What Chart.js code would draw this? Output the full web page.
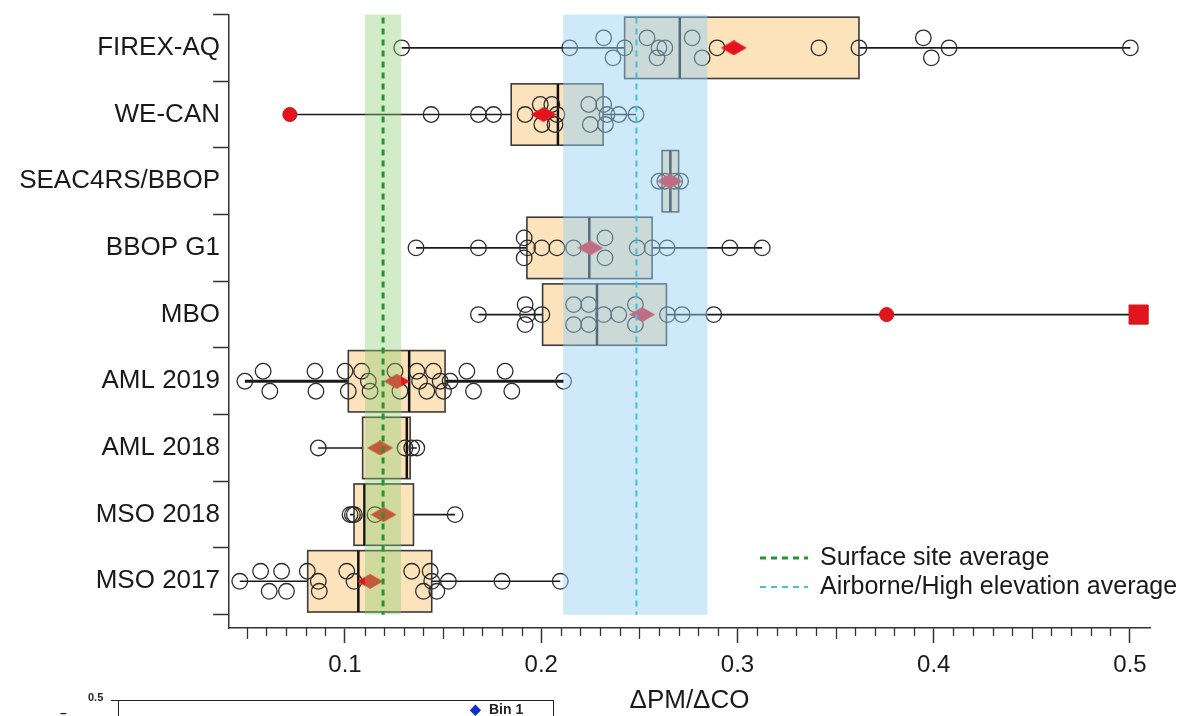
<!DOCTYPE html>
<html lang="en">
<head>
<meta charset="UTF-8">
<title>ΔPM/ΔCO by campaign</title>
<script src="https://cdn.jsdelivr.net/npm/chart.js"></script>
<style>
  body { margin: 0; background: #fff; font-family: "Liberation Sans", Arial, sans-serif; }
  .wrap { position: relative; width: 1202px; height: 716px; overflow: hidden; }
  /* bit of the next figure that is cut off at the bottom */
  .inset { position: absolute; left: 118px; top: 700px; width: 434px; height: 40px; border: 1.5px solid #222; border-bottom: none; }
  .inset-tick { position: absolute; left: 111px; top: 700px; width: 7px; border-top: 1.5px solid #222; }
  .inset-lbl { position: absolute; left: 88px; top: 691px; font-size: 11px; font-weight: bold; color: #222; }
  .inset-dash { position: absolute; left: 60px; top: 706px; font-size: 12px; font-weight: bold; color: #222; }
  .inset-key { position: absolute; left: 470px; top: 701px; font-size: 14px; font-weight: bold; color: #222; }
  .inset-key span { color: #1030d0; margin-right: 8px; }
</style>
</head>
<body>
<div class="wrap">
  <canvas id="ratioChart" width="1202" height="716"></canvas>
  <div class="inset"></div>
  <div class="inset-tick"></div>
  <div class="inset-lbl">0.5</div>
  <div class="inset-dash">–</div>
  <div class="inset-key"><span>◆</span>Bin 1</div>
</div>

<script>
// campaigns, top to bottom
const categories = ['FIREX-AQ', 'WE-CAN', 'SEAC4RS/BBOP', 'BBOP G1', 'MBO', 'AML 2019', 'AML 2018', 'MSO 2018', 'MSO 2017'];

// box statistics
const whiskerLow  = [0.1289, 0.0719, 0.2616, 0.1362, 0.1680, 0.0490, 0.0864, 0.1026, 0.0464];
const quartile1   = [0.2425, 0.1847, 0.2616, 0.1927, 0.2007, 0.1017, 0.1090, 0.1046, 0.0810];
const medians     = [0.2706, 0.2085, 0.2658, 0.2245, 0.2284, 0.1327, 0.1315, 0.1099, 0.1068];
const quartile3   = [0.3619, 0.2315, 0.2700, 0.2565, 0.2638, 0.1510, 0.1332, 0.1349, 0.1442];
const whiskerHigh = [0.5002, 0.2483, 0.2700, 0.3126, 0.5044, 0.2114, 0.1366, 0.1561, 0.2097];
const means       = [0.2981, 0.2012, 0.2655, 0.2250, 0.2514, 0.1264, 0.1179, 0.1196, 0.1128];

// individual fires (value) and which lane they sit in (-1 above, 0 centre, 1 below)
const pointValues = [
  [0.1289, 0.2145, 0.2318, 0.2366, 0.2425, 0.2539, 0.2600, 0.2630, 0.2590, 0.2769, 0.2820, 0.2896, 0.3415, 0.3619, 0.3947, 0.3988, 0.4078, 0.5002],
  [0.1439, 0.1680, 0.1757, 0.1918, 0.1995, 0.2003, 0.2054, 0.2080, 0.2070, 0.2242, 0.2250, 0.2318, 0.2327, 0.2335, 0.2395, 0.2483],
  [0.2600, 0.2630, 0.2680, 0.2710],
  [0.1362, 0.1680, 0.1913, 0.1913, 0.1930, 0.2003, 0.2080, 0.2165, 0.2325, 0.2325, 0.2489, 0.2565, 0.2641, 0.2961, 0.3126],
  [0.1680, 0.1918, 0.1918, 0.1930, 0.2003, 0.2165, 0.2165, 0.2242, 0.2242, 0.2318, 0.2395, 0.2480, 0.2480, 0.2643, 0.2718, 0.2879],
  [0.0490, 0.0583, 0.0617, 0.0847, 0.0852, 0.1000, 0.1017, 0.1085, 0.1119, 0.1128, 0.1255, 0.1280, 0.1366, 0.1380, 0.1417, 0.1451, 0.1485, 0.1502, 0.1536, 0.1621, 0.1655, 0.1816, 0.1850, 0.2114],
  [0.0864, 0.1306, 0.1340, 0.1366],
  [0.1026, 0.1038, 0.1048, 0.1153, 0.1561],
  [0.0464, 0.0570, 0.0614, 0.0677, 0.0702, 0.0808, 0.0864, 0.0869, 0.1009, 0.1046, 0.1340, 0.1400, 0.1434, 0.1442, 0.1468, 0.1527, 0.1800, 0.2097]
];
const pointLanes = [
  [0, 0, -1, 1, 0, -1, 0, 0, 1, -1, 1, 0, 0, 0, -1, 1, 0, 0],
  [0, 0, 0, 0, -1, 1, -1, 0, 1, -1, 1, -1, 1, 0, 0, 0],
  [0, 0, 0, 0],
  [0, 0, -1, 1, 0, 0, 0, 0, -1, 1, 0, 0, 0, 0, 0],
  [0, -1, 1, 0, 0, -1, 1, -1, 1, 0, 0, -1, 1, 0, 0, 0],
  [0, -1, 1, -1, 1, -1, 1, -1, 0, 1, -1, 1, -1, 0, 1, -1, 0, 1, 0, -1, 1, -1, 1, 0],
  [0, 0, 0, 0],
  [0, 0, 0, 0, 0],
  [0, -1, 1, -1, 1, -1, 0, 1, -1, 0, -1, 1, -1, 0, 1, 0, 0, 0]
];

// red outliers
const outlierRows   = [1, 4];
const outlierValues = [0.0719, 0.3760];
const extremeRows   = [4];
const extremeValues = [0.5044];

// averages and their spread
const surfaceAvg   = 0.1194;
const surfaceBand  = [0.1102, 0.1286];
const airborneAvg  = 0.2485;
const airborneBand = [0.2112, 0.2847];

const laneGap = 0.15;
const boxHalf = 0.46;

function diamondImage(w, h, color) {
  const c = document.createElement('canvas');
  c.width = w; c.height = h;
  const g = c.getContext('2d');
  g.fillStyle = color;
  g.beginPath();
  g.moveTo(0, h / 2); g.lineTo(w / 2, 0); g.lineTo(w, h / 2); g.lineTo(w / 2, h);
  g.closePath();
  g.fill();
  return c;
}

const circlePoints = [];
pointValues.forEach((vals, i) => {
  vals.forEach((v, k) => circlePoints.push({ x: v, y: i + pointLanes[i][k] * laneGap }));
});
const meanPoints = means.map((v, i) => ({ x: v, y: i }));
const outlierPoints = outlierValues.map((v, k) => ({ x: v, y: outlierRows[k] }));
const extremePoints = extremeValues.map((v, k) => ({ x: v, y: extremeRows[k] }));

const boxPlugin = {
  id: 'boxes',
  beforeDatasetsDraw(chart) {
    const { ctx, scales: { x, y } } = chart;
    ctx.save();
    categories.forEach((name, i) => {
      const cy = y.getPixelForValue(i);
      // whisker line
      ctx.strokeStyle = '#1a1a1a';
      ctx.lineWidth = name === 'AML 2019' ? 3 : 1.6;
      ctx.beginPath();
      ctx.moveTo(x.getPixelForValue(whiskerLow[i]), cy);
      ctx.lineTo(x.getPixelForValue(whiskerHigh[i]), cy);
      ctx.stroke();
      // box
      const x1 = x.getPixelForValue(quartile1[i]);
      const x3 = x.getPixelForValue(quartile3[i]);
      const top = y.getPixelForValue(i - boxHalf);
      const bot = y.getPixelForValue(i + boxHalf);
      ctx.fillStyle = '#fce3bb';
      ctx.fillRect(x1, top, x3 - x1, bot - top);
      ctx.strokeStyle = '#3a3a3a';
      ctx.lineWidth = 1.6;
      ctx.strokeRect(x1, top, x3 - x1, bot - top);
      // median
      const xm = x.getPixelForValue(medians[i]);
      ctx.strokeStyle = '#111';
      ctx.lineWidth = 2.5;
      ctx.beginPath();
      ctx.moveTo(xm, top); ctx.lineTo(xm, bot);
      ctx.stroke();
    });
    ctx.restore();
  },
  afterDatasetsDraw(chart) {
    const { ctx, scales: { x, y } } = chart;
    const yTop = y.getPixelForValue(-0.5);
    const yBot = y.getPixelForValue(8.5);
    ctx.save();
    // shaded ranges sit on top of everything, semi transparent
    const bands = [[surfaceBand, 'rgba(140,205,110,0.38)'], [airborneBand, 'rgba(150,210,245,0.48)']];
    bands.forEach(([b, col]) => {
      const a = x.getPixelForValue(b[0]), c = x.getPixelForValue(b[1]);
      ctx.fillStyle = col;
      ctx.fillRect(a, yTop, c - a, yBot - yTop);
    });
    // average lines
    const avgLines = [[surfaceAvg, '#1f9a2a', 3], [airborneAvg, '#45bfe0', 2]];
    avgLines.forEach(([v, col, w]) => {
      const px = x.getPixelForValue(v);
      ctx.strokeStyle = col;
      ctx.lineWidth = w;
      ctx.setLineDash([6, 5]);
      ctx.beginPath();
      ctx.moveTo(px, yTop + 3); ctx.lineTo(px, yBot);
      ctx.stroke();
    });
    ctx.restore();
  },
  afterDraw(chart) {
    const { ctx, chartArea, scales: { x } } = chart;
    ctx.save();
    // minor ticks on x axis
    ctx.strokeStyle = '#333';
    ctx.lineWidth = 1.3;
    for (let k = 5; k <= 50; k++) {
      if (k % 10 === 0) continue;
      const px = Math.round(x.getPixelForValue(k / 100)) + 0.5;
      const len = k % 5 === 0 ? 11 : 8;
      ctx.beginPath();
      ctx.moveTo(px, chartArea.bottom); ctx.lineTo(px, chartArea.bottom + len);
      ctx.stroke();
    }
    // legend, lower right inside the plot
    const lx = chartArea.right - 390;
    const rows = [['Surface site average', '#1f9a2a', 3, chartArea.bottom - 70],
                  ['Airborne/High elevation average', '#45bfe0', 2, chartArea.bottom - 41]];
    ctx.font = '25px "Liberation Sans", Arial, sans-serif';
    ctx.textBaseline = 'middle';
    rows.forEach(([txt, col, w, ly]) => {
      ctx.strokeStyle = col;
      ctx.lineWidth = w;
      ctx.setLineDash([6, 5]);
      ctx.beginPath();
      ctx.moveTo(lx, ly); ctx.lineTo(lx + 48, ly);
      ctx.stroke();
      ctx.setLineDash([]);
      ctx.fillStyle = '#1a1a1a';
      ctx.fillText(txt, lx + 60, ly);
    });
    ctx.restore();
  }
};

Chart.defaults.font.family = '"Liberation Sans", Arial, sans-serif';
Chart.defaults.color = '#1a1a1a';

const ctx = document.getElementById('ratioChart').getContext('2d');
const chart = new Chart(ctx, {
  type: 'scatter',
  data: {
    datasets: [
      {
        label: 'Mean',
        data: meanPoints,
        pointStyle: diamondImage(26, 15, '#e3141b'),
        pointRadius: 8
      },
      {
        label: 'Outlier',
        data: outlierPoints,
        pointStyle: 'circle',
        pointRadius: 7,
        backgroundColor: '#e3141b',
        borderColor: '#d01018',
        borderWidth: 1
      },
      {
        label: 'Extreme',
        data: extremePoints,
        pointStyle: 'rect',
        pointRadius: 13.5,
        backgroundColor: '#e3141b',
        borderColor: '#d01018',
        borderWidth: 1
      },
      {
        label: 'Fires',
        data: circlePoints,
        pointStyle: 'circle',
        pointRadius: 7.8,
        backgroundColor: 'rgba(0,0,0,0)',
        borderColor: '#2a2a2a',
        borderWidth: 1.3
      }
    ]
  },
  options: {
    responsive: false,
    animation: false,
    clip: false,
    layout: { padding: { top: 12, right: 52, left: 0, bottom: 0 } },
    plugins: { legend: { display: false }, tooltip: { enabled: false } },
    scales: {
      x: {
        type: 'linear',
        min: 0.0409,
        max: 0.5102,
        afterBuildTicks: (scale) => { scale.ticks = [0.1, 0.2, 0.3, 0.4, 0.5].map(v => ({ value: v })); },
        afterFit: (scale) => { scale.height = 88; },
        ticks: {
          autoSkip: false,
          maxRotation: 0,
          padding: 8,
          font: { size: 24 },
          color: '#1a1a1a',
          callback: (v) => Number(v).toFixed(1)
        },
        grid: { drawOnChartArea: false, tickLength: 15, tickWidth: 1.5, tickColor: '#333' },
        border: { color: '#333', width: 1.5 },
        title: { display: true, text: 'ΔPM/ΔCO', font: { size: 26 }, color: '#1a1a1a', padding: { top: 0, bottom: 0 } }
      },
      y: {
        type: 'linear',
        reverse: true,
        min: -0.5,
        max: 8.7,
        afterBuildTicks: (scale) => {
          const t = [];
          for (let v = -0.5; v <= 8.5; v += 0.5) t.push({ value: v });
          scale.ticks = t;
        },
        afterFit: (scale) => { scale.width = 229; },
        ticks: {
          autoSkip: false,
          padding: -7,
          font: { size: 26 },
          color: '#1a1a1a',
          callback: (v) => Number.isInteger(v) ? categories[v] : ''
        },
        grid: {
          drawOnChartArea: false,
          tickLength: 16,
          tickWidth: 1.5,
          tickColor: (c) => Number.isInteger(c.tick.value) ? 'rgba(0,0,0,0)' : '#333'
        },
        border: { color: '#333', width: 1.5 }
      }
    }
  },
  plugins: [boxPlugin]
});
</script>
</body>
</html>
